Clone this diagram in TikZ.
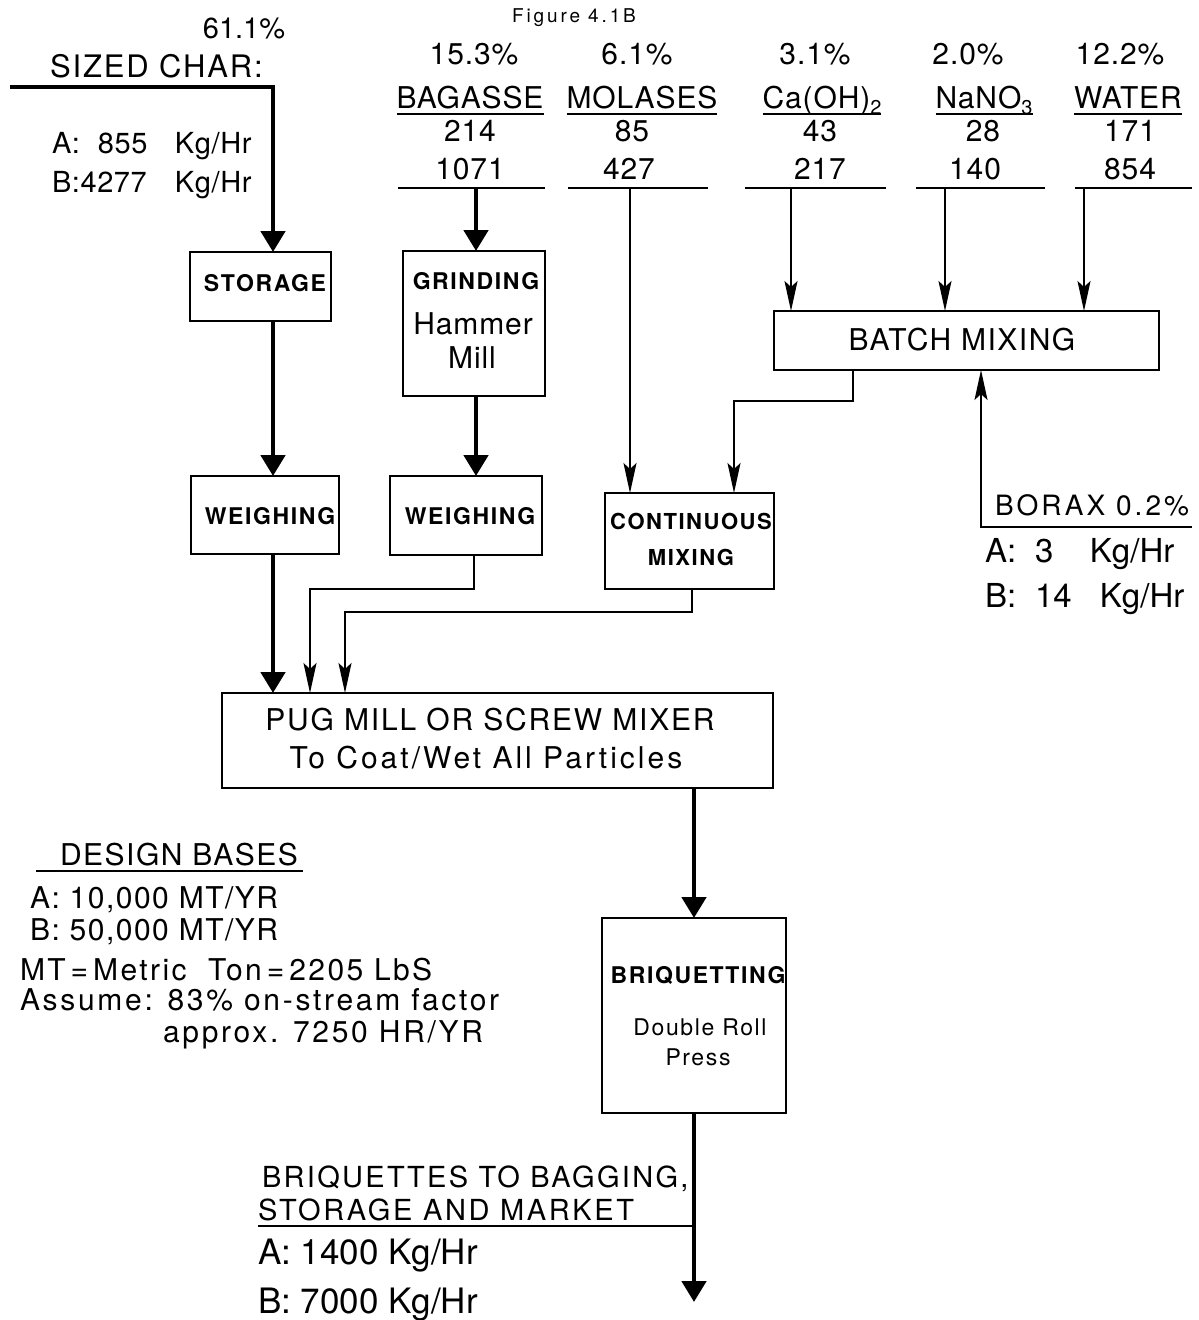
\documentclass[tikz,border=0pt]{standalone}
\usepackage{fontspec}
\setmainfont{TeX Gyre Heros}
\usetikzlibrary{arrows.meta}
\newcommand\fsz[1]{\fontsize{#1}{#1}\selectfont}
\newcommand\lsp[1]{\addfontfeature{LetterSpace=#1}}
\begin{document}
\begin{tikzpicture}[x=1pt,y=-1pt,
  t/.style={inner sep=0pt, outer sep=0pt, anchor=base},
  tl/.style={inner sep=0pt, outer sep=0pt, anchor=base west},
  box/.style={draw, line width=2.8pt, inner sep=0pt, outer sep=0pt},
  boxlbl/.style={t, font=\fsz{23}\bfseries\lsp{7}},
  thk/.style={line width=4.8pt, line join=miter, -{Triangle[length=21pt,width=24pt]}},
  thn/.style={line width=1.9pt, -{Stealth[length=30pt,width=13pt,inset=6pt]}},
  hline/.style={line width=1.9pt},
  big/.style={font=\fsz{30}\lsp{3}}
]
\useasboundingbox (0,0) rectangle (1199,1320);

% ---------- boxes ----------
\node[box, minimum width=141pt, minimum height=69pt]  (storage) at (260.5,286.5) {};
\node[box, minimum width=148pt, minimum height=78pt]  (weigh1)  at (265,515) {};
\node[box, minimum width=142pt, minimum height=145pt] (grind)   at (474,323.5) {};
\node[box, minimum width=152pt, minimum height=79pt]  (weigh2)  at (466,515.5) {};
\node[box, minimum width=385pt, minimum height=59pt]  (batch)   at (966.5,340.5) {};
\node[box, minimum width=169pt, minimum height=96pt]  (cont)    at (689.5,541) {};
\node[box, minimum width=551pt, minimum height=95pt]  (pug)     at (497.5,740.5) {};
\node[box, minimum width=184pt, minimum height=195pt] (briq)    at (694,1015.5) {};

% ---------- box labels ----------
\node[boxlbl] (lstor) at (265,291) {STORAGE};
\node[boxlbl] (lw1) at (270,524) {WEIGHING};
\node[boxlbl] (lgr) at (476,289) {GRINDING};
\node[t, font=\fsz{30}\lsp{3}] (lham) at (473,334) {Hammer};
\node[t, font=\fsz{30}\lsp{3}] (lmill) at (472,368) {Mill};
\node[boxlbl] (lw2) at (470,524) {WEIGHING};
\node[t, font=\fsz{30}\lsp{5}] (lbatch) at (962,350) {BATCH MIXING};
\node[t, font=\fsz{22}\bfseries\lsp{7}] (lcont1) at (691,529) {CONTINUOUS};
\node[t, font=\fsz{22}\bfseries\lsp{7}] (lcont2) at (691,565) {MIXING};
\node[t, font=\fsz{30}\lsp{6}] (lpug1) at (490,730) {PUG MILL OR SCREW MIXER};
\node[t, font=\fsz{30}\lsp{10}] (lpug2) at (486,768) {To Coat/Wet All Particles};
\node[boxlbl] (lbriq) at (698,983) {BRIQUETTING};
\node[t, font=\fsz{23}\lsp{7}] (ldr) at (700,1035) {Double Roll};
\node[t, font=\fsz{23}\lsp{7}] (lpress) at (698,1065) {Press};

% ---------- title ----------
\node[t, font=\fsz{19}\lsp{15}] (title) at (574,22) {Figure 4.1B};

% ---------- sized char ----------
\node[t, font=\fsz{29}] (charpct) at (244,38) {61.1\%};
\node[tl, font=\fsz{31}\lsp{6}] (charname) at (50,77) {SIZED CHAR:};
\node[tl, font=\fsz{29}\lsp{2}] (charA) at (52,153) {\makebox[46pt][l]{A:}\makebox[77pt][l]{855}Kg/Hr};
\node[tl, font=\fsz{29}\lsp{2}] (charB) at (52,192) {\makebox[123pt][l]{B:4277}Kg/Hr};

% ---------- column headers ----------
\node[t, big] (p1) at (474,64) {15.3\%};
\node[t, big] (p2) at (637,64) {6.1\%};
\node[t, big] (p3) at (815,64) {3.1\%};
\node[t, big] (p4) at (968,64) {2.0\%};
\node[t, big] (p5) at (1120,64) {12.2\%};

\node[t, big] (n1) at (470,108) {BAGASSE};
\node[t, big] (n2) at (642,108) {MOLASES};
\node[t, big] (n3) at (822,108) {Ca(OH)\raisebox{-6pt}{\fsz{20}2}};
\node[t, big] (n4) at (984,108) {NaNO\raisebox{-6pt}{\fsz{20}3}};
\node[t, big] (n5) at (1128,108) {WATER};
\foreach \n in {n1,n2,n3,n4,n5}
  \draw[hline] ([yshift=-6pt]\n.base west) -- ([yshift=-6pt]\n.base east);

\node[t, big] (a1) at (470,141) {214};
\node[t, big] (a2) at (632,141) {85};
\node[t, big] (a3) at (820,141) {43};
\node[t, big] (a4) at (983,141) {28};
\node[t, big] (a5) at (1130,141) {171};
\node[t, big] (b1) at (470,179) {1071};
\node[t, big] (b2) at (629,179) {427};
\node[t, big] (b3) at (820,179) {217};
\node[t, big] (b4) at (975,179) {140};
\node[t, big] (b5) at (1130,179) {854};

% feed lines
\coordinate (bagL) at (398,188);  \coordinate (bagR) at (545,188);
\coordinate (molL) at (568,188);  \coordinate (molR) at (708,188);
\coordinate (caL)  at (745,188);  \coordinate (caR)  at (886,188);
\coordinate (naL)  at (916,188);  \coordinate (naR)  at (1045,188);
\coordinate (waL)  at (1075,188); \coordinate (waR)  at (1192,188);
\foreach \a/\b in {bagL/bagR,molL/molR,caL/caR,naL/naR,waL/waR}
  \draw[hline] (\a) -- (\b);
\coordinate (bagA) at (476,188);
\coordinate (molA) at (630,188);
\coordinate (caA)  at (791,188);
\coordinate (naA)  at (945,188);
\coordinate (waA)  at (1084,188);

% ---------- borax ----------
\node[tl, font=\fsz{28}\lsp{11}] (borax) at (995,515) {BORAX 0.2\%};
\node[tl, font=\fsz{33}] (boraxA) at (985,562) {\makebox[50pt][l]{A:}\makebox[55pt][l]{3}Kg/Hr};
\node[tl, font=\fsz{33}] (boraxB) at (985,607) {\makebox[50pt][l]{B:}\makebox[65pt][l]{14}Kg/Hr};
\coordinate (boraxR) at (1192,527);
\coordinate (boraxC) at (981,527);

% ---------- design bases ----------
\node[tl, font=\fsz{30}\lsp{5}] (db) at (60,865) {DESIGN BASES};
\coordinate (dbL) at (36,871); \coordinate (dbR) at (303,871);
\draw[hline] (dbL) -- (dbR);
\node[tl, font=\fsz{30}\lsp{5}] (dbA) at (30,908) {A: 10,000 MT/YR};
\node[tl, font=\fsz{30}\lsp{5}] (dbB) at (30,940) {B: 50,000 MT/YR};
\node[tl, font=\fsz{30}\lsp{8}] (mt) at (20,980) {MT\,=\,Metric\ \ Ton\,=\,2205 LbS};
\node[tl, font=\fsz{30}\lsp{9}] (asm) at (20,1010) {Assume: 83\% on-stream factor};
\node[tl, font=\fsz{30}\lsp{9}] (apx) at (163,1042) {approx. 7250 HR/YR};

% ---------- output ----------
\node[tl, font=\fsz{29}\lsp{8}] (out1) at (262,1187) {BRIQUETTES TO BAGGING,};
\node[tl, font=\fsz{29}\lsp{9}] (out2) at (258,1220) {STORAGE AND MARKET};
\node[tl, font=\fsz{35}] (outA) at (258,1264) {A: 1400 Kg/Hr};
\node[tl, font=\fsz{35}] (outB) at (258,1313) {B: 7000 Kg/Hr};
\coordinate (outL) at (258,1226);
\coordinate (outEnd) at (694,1302);

% ---------- connectors ----------
\coordinate (charIn) at (10,87);
\coordinate (charC) at (273,87);
\draw[thk] (charIn) -- (charC) -- (charC |- storage.north);
\draw[thk] (storage.south -| charC) -- (weigh1.north -| charC);
\draw[thk] (weigh1.south -| charC) -- (pug.north -| charC);

\draw[thk] (bagA) -- (bagA |- grind.north);
\draw[thk] (grind.south -| bagA) -- (weigh2.north -| bagA);
\coordinate (w2out) at (474,589);
\coordinate (w2in) at (310,589);
\draw[thn] (weigh2.south -| w2out) -- (w2out) -- (w2in) -- (w2in |- pug.north);

\draw[thn] (molA) -- (molA |- cont.north);
\draw[thn] (caA) -- (caA |- batch.north);
\draw[thn] (naA) -- (naA |- batch.north);
\draw[thn] (waA) -- (waA |- batch.north);

\coordinate (bout) at (853,401);
\coordinate (bin) at (734,401);
\draw[thn] (batch.south -| bout) -- (bout) -- (bin) -- (bin |- cont.north);

\draw[thn] (boraxR) -- (boraxC) -- (boraxC |- batch.south);

\coordinate (cout) at (692,612);
\coordinate (cin) at (345,612);
\draw[thn] (cont.south -| cout) -- (cout) -- (cin) -- (cin |- pug.north);

\draw[thk] (pug.south -| briq.north) -- (briq.north);
\draw[thk] (briq.south) -- (outEnd);
\draw[hline] (outL) -- (outL -| briq.south);
\end{tikzpicture}
\end{document}
